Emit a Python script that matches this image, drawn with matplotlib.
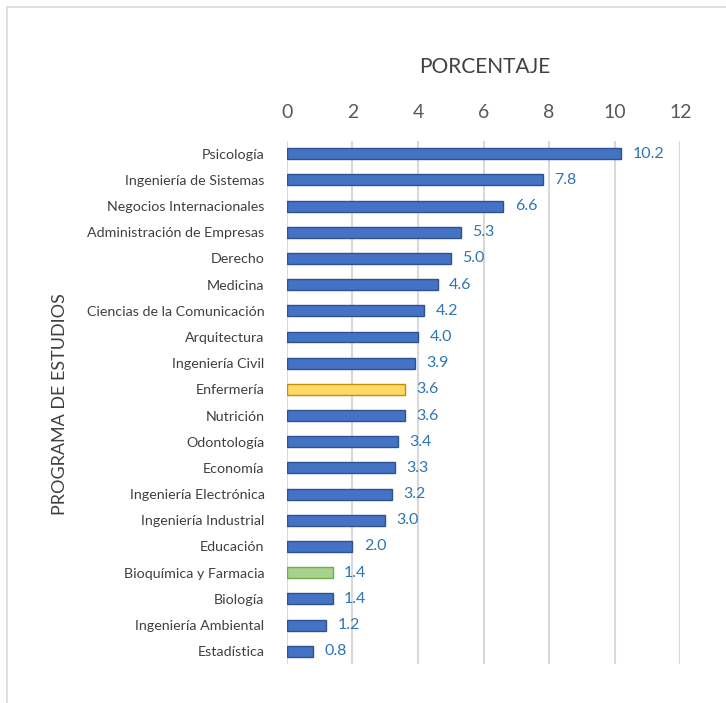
import matplotlib
matplotlib.use('Agg')
import matplotlib.pyplot as plt
from matplotlib.patches import Rectangle

plt.rcParams['font.family'] = ['Lato', 'DejaVu Sans']

programas = ['Psicología', 'Ingeniería de Sistemas', 'Negocios Internacionales',
             'Administración de Empresas', 'Derecho', 'Medicina',
             'Ciencias de la Comunicación', 'Arquitectura', 'Ingeniería Civil',
             'Enfermería', 'Nutrición', 'Odontología', 'Economía',
             'Ingeniería Electrónica', 'Ingeniería Industrial', 'Educación',
             'Bioquímica y Farmacia', 'Biología', 'Ingeniería Ambiental',
             'Estadística']
porcentaje = [10.2, 7.8, 6.6, 5.3, 5.0, 4.6, 4.2, 4.0, 3.9, 3.6, 3.6, 3.4,
              3.3, 3.2, 3.0, 2.0, 1.4, 1.4, 1.2, 0.8]
x_ticks = [0, 2, 4, 6, 8, 10, 12]

BLUE = '#4472C4'
colores = [BLUE] * len(programas)
colores[programas.index('Enfermería')] = '#FFD966'
colores[programas.index('Bioquímica y Farmacia')] = '#A9D18E'
bordes = ['#2F528F'] * len(programas)
bordes[programas.index('Enfermería')] = '#BF9000'
bordes[programas.index('Bioquímica y Farmacia')] = '#70AD47'

fig = plt.figure(figsize=(7.26, 7.03), dpi=100)
# chart border
fig.patches.append(Rectangle((7 / 726, -0.01), 1.0, 1 - 7 / 703 + 0.01,
                             transform=fig.transFigure, fill=False,
                             edgecolor='#D9D9D9', linewidth=1.2))

ax = fig.add_axes([0.395, 0.055, 0.542, 0.745])
y = list(range(len(programas)))
ax.barh(y, porcentaje, height=0.42, color=colores, edgecolor=bordes,
        linewidth=1.0, zorder=3)

for yi, v in zip(y, porcentaje):
    ax.text(v + 0.35, yi, f'{v:.1f}', va='center', ha='left',
            fontsize=11.5, color='#2E75B6')

ax.set_xlim(0, 12)
ax.set_ylim(len(programas) - 0.5, -0.5)
ax.set_xticks(x_ticks)
ax.xaxis.tick_top()
ax.tick_params(axis='x', length=0, labelsize=14, labelcolor='#595959', pad=14)
ax.set_yticks(y)
ax.set_yticklabels(programas)
ax.tick_params(axis='y', length=0, labelsize=10.3, labelcolor='#404040', pad=16)
ax.grid(axis='x', color='#D9D9D9', linewidth=1.5, zorder=0)
for s in ax.spines.values():
    s.set_visible(False)

fig.text(0.668, 0.904, 'PORCENTAJE', ha='center', va='center',
         fontsize=15, color='#404040')
fig.text(0.083, 0.425, 'PROGRAMA DE ESTUDIOS', ha='center', va='center',
         rotation=90, fontsize=13, color='#404040')

fig.savefig('out.png', dpi=100)
